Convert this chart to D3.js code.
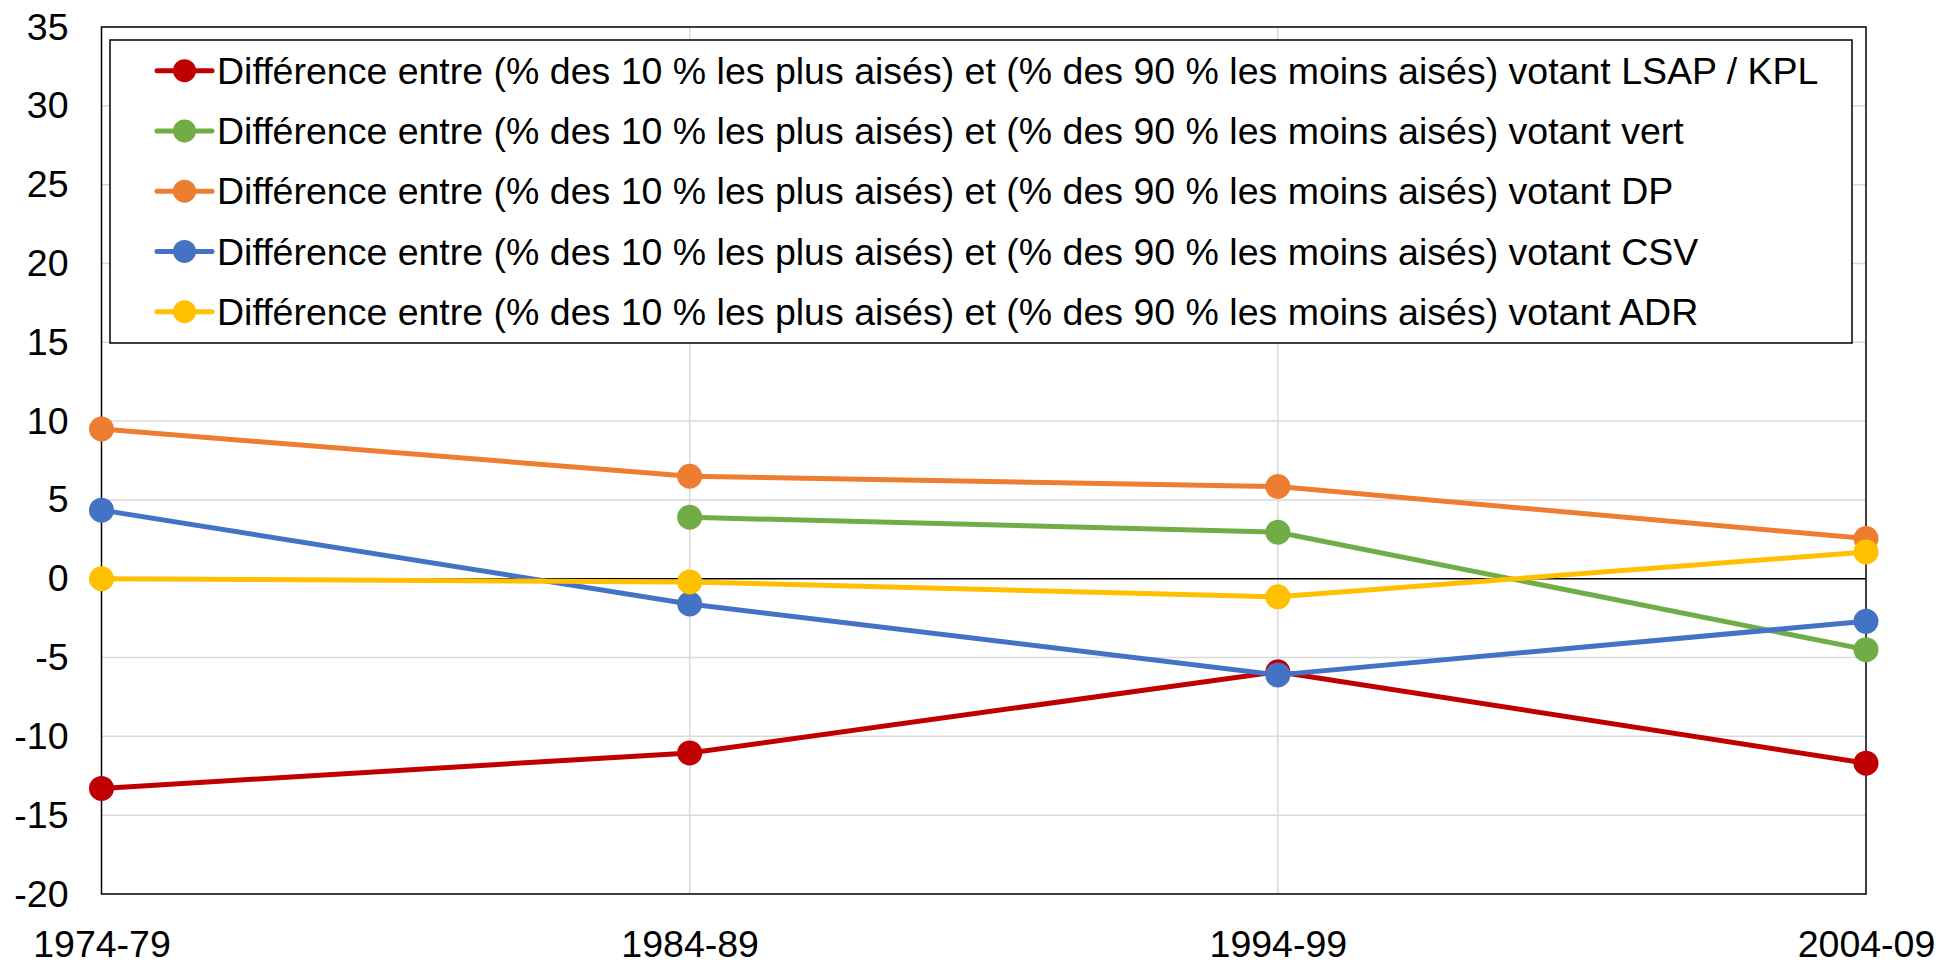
<!DOCTYPE html>
<html>
<head>
<meta charset="utf-8">
<script src="https://cdn.jsdelivr.net/npm/d3@7"></script>
<style>
  body { margin: 0; background: #fff; }
  svg { display: block; font-family: "Liberation Sans", Arial, sans-serif; }
</style>
</head>
<body>
<div id="chart"></div>
<script>
// periods on the x axis
const periods = ["1974-79", "1984-89", "1994-99", "2004-09"];

// y axis ticks
const yTicks = [-20, -15, -10, -5, 0, 5, 10, 15, 20, 25, 30, 35];

// one array per party (null = no value)
const lsapKpl = [-13.3, -11.05, -5.9, -11.7];
const vert    = [null, 3.9, 2.95, -4.5];
const dp      = [9.5, 6.5, 5.85, 2.55];
const csv     = [4.35, -1.6, -6.1, -2.7];
const adr     = [0.0, -0.2, -1.15, 1.7];

const prefix = "Différence entre (% des 10 % les plus aisés) et (% des 90 % les moins aisés) votant ";
const seriesNames = ["LSAP / KPL", "vert", "DP", "CSV", "ADR"];
const seriesColors = ["#C00000", "#70AD47", "#ED7D31", "#4472C4", "#FFC000"];
const seriesValues = [lsapKpl, vert, dp, csv, adr];

const width = 1939, height = 965;
const margin = { top: 27, right: 73, bottom: 71, left: 101.5 };
const fontSize = 37.5;

const svg = d3.select("#chart").append("svg")
    .attr("width", width)
    .attr("height", height);

const xScale = d3.scalePoint()
    .domain(periods)
    .range([margin.left, width - margin.right]);

const yScale = d3.scaleLinear()
    .domain([-20, 35])
    .range([height - margin.bottom, margin.top]);

// horizontal gridlines
svg.append("g")
    .selectAll("line")
    .data(yTicks.filter(d => d !== 0 && d !== -20 && d !== 35))
    .join("line")
    .attr("x1", margin.left)
    .attr("x2", width - margin.right)
    .attr("y1", d => yScale(d))
    .attr("y2", d => yScale(d))
    .attr("stroke", "#d9d9d9")
    .attr("stroke-width", 1.5);

// vertical gridlines on inner periods
svg.append("g")
    .selectAll("line")
    .data(periods.slice(1, -1))
    .join("line")
    .attr("x1", d => xScale(d))
    .attr("x2", d => xScale(d))
    .attr("y1", margin.top)
    .attr("y2", height - margin.bottom)
    .attr("stroke", "#d9d9d9")
    .attr("stroke-width", 1.5);

// zero line
svg.append("line")
    .attr("x1", margin.left)
    .attr("x2", width - margin.right)
    .attr("y1", yScale(0))
    .attr("y2", yScale(0))
    .attr("stroke", "#000")
    .attr("stroke-width", 1.5);

// plot frame
svg.append("rect")
    .attr("x", margin.left)
    .attr("y", margin.top)
    .attr("width", width - margin.right - margin.left)
    .attr("height", height - margin.bottom - margin.top)
    .attr("fill", "none")
    .attr("stroke", "#000")
    .attr("stroke-width", 1.5);

// y axis labels (plain hyphen for negatives)
const yAxis = d3.axisLeft(yScale)
    .tickValues(yTicks)
    .tickFormat(d => String(d))
    .tickSize(0)
    .tickPadding(33);

svg.append("g")
    .attr("class", "axis y-axis")
    .attr("transform", `translate(${margin.left},0)`)
    .call(yAxis)
    .call(g => g.select(".domain").remove())
    .selectAll("text")
    .attr("font-size", fontSize)
    .attr("font-family", "Liberation Sans, Arial, sans-serif")
    .attr("fill", "#000");

// x axis labels
const xAxis = d3.axisBottom(xScale)
    .tickSize(0)
    .tickPadding(36);

svg.append("g")
    .attr("class", "axis x-axis")
    .attr("transform", `translate(0,${height - margin.bottom})`)
    .call(xAxis)
    .call(g => g.select(".domain").remove())
    .selectAll("text")
    .attr("font-size", fontSize)
    .attr("font-family", "Liberation Sans, Arial, sans-serif")
    .attr("fill", "#000");

const line = d3.line()
    .defined(d => d.v !== null)
    .x(d => xScale(d.p))
    .y(d => yScale(d.v));

seriesValues.forEach((vals, i) => {
    const pts = vals.map((v, j) => ({ p: periods[j], v: v }));
    const g = svg.append("g");
    g.append("path")
        .datum(pts)
        .attr("fill", "none")
        .attr("stroke", seriesColors[i])
        .attr("stroke-width", 5)
        .attr("stroke-linejoin", "round")
        .attr("d", line);
    g.selectAll("circle")
        .data(pts.filter(d => d.v !== null))
        .join("circle")
        .attr("cx", d => xScale(d.p))
        .attr("cy", d => yScale(d.v))
        .attr("r", 12.5)
        .attr("fill", seriesColors[i]);
});

// legend
const legend = svg.append("g");
legend.append("rect")
    .attr("x", 110)
    .attr("y", 40)
    .attr("width", 1742)
    .attr("height", 303)
    .attr("fill", "#fff")
    .attr("stroke", "#000")
    .attr("stroke-width", 1.5);

const items = legend.selectAll("g.item")
    .data(seriesNames)
    .join("g")
    .attr("class", "item")
    .attr("transform", (d, i) => `translate(0,${70.7 + i * 60.25})`);

items.append("line")
    .attr("x1", 157)
    .attr("x2", 212)
    .attr("stroke", (d, i) => seriesColors[i])
    .attr("stroke-width", 5)
    .attr("stroke-linecap", "round");

items.append("circle")
    .attr("cx", 184.5)
    .attr("r", 11.5)
    .attr("fill", (d, i) => seriesColors[i]);

items.append("text")
    .attr("x", 217)
    .attr("dy", "0.35em")
    .attr("font-size", fontSize)
    .attr("fill", "#000")
    .text(d => prefix + d);
</script>
</body>
</html>
